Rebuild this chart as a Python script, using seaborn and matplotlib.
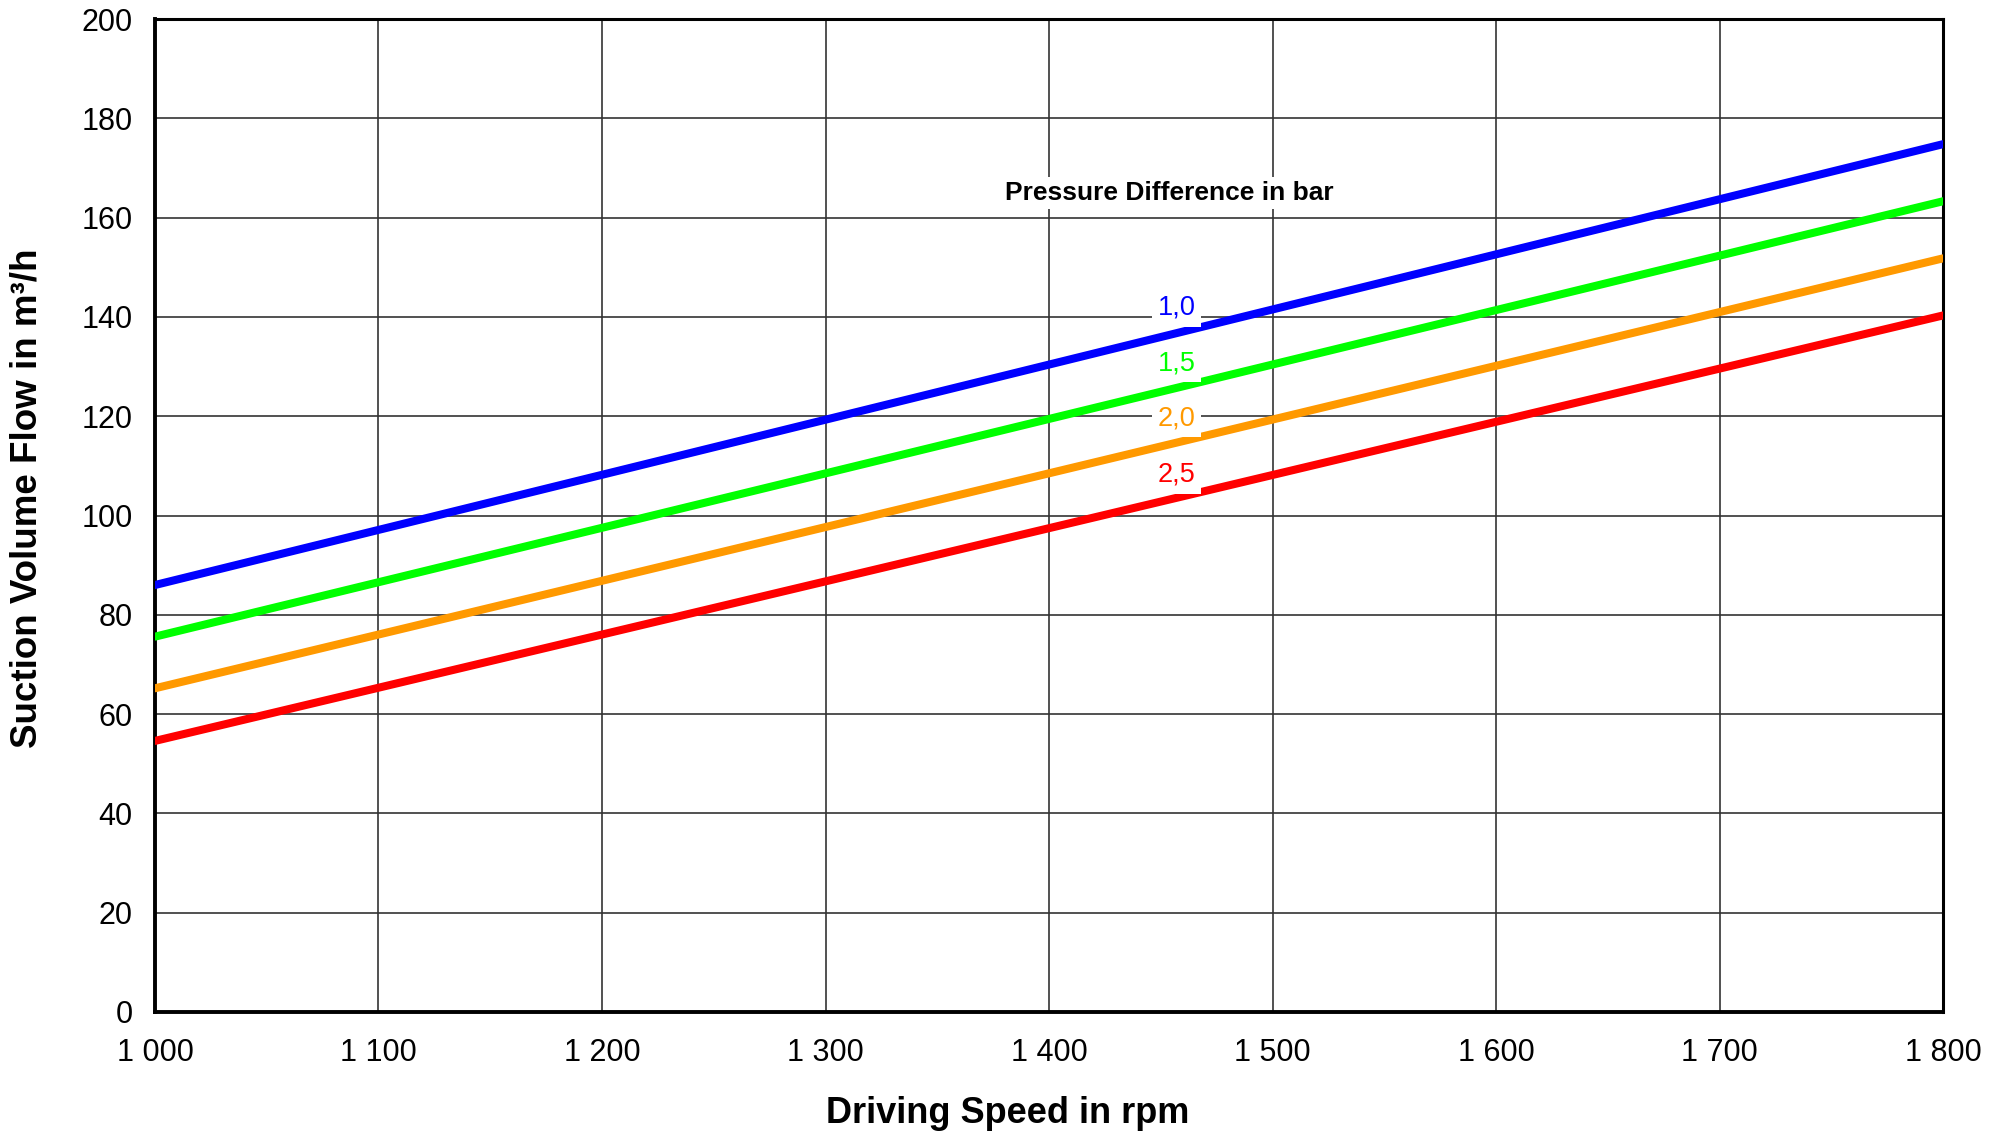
import pandas as pd
import seaborn as sns
import matplotlib
import matplotlib.pyplot as plt
from matplotlib.ticker import MultipleLocator, FuncFormatter

matplotlib.use('Agg')

# Data (straight lines, endpoints)
speed_rpm = [1000, 1800]
flow_1_0 = [86.0, 174.8]
flow_1_5 = [75.6, 163.3]
flow_2_0 = [65.2, 151.8]
flow_2_5 = [54.6, 140.3]
pressure_labels = ['1,0', '1,5', '2,0', '2,5']
label_y = [141.8, 130.7, 119.6, 108.2]
line_colors = ['#0000FF', '#00FF00', '#FF9900', '#FF0000']

df = pd.concat([
    pd.DataFrame({'rpm': speed_rpm, 'flow': vals, 'dp': lab})
    for vals, lab in zip([flow_1_0, flow_1_5, flow_2_0, flow_2_5], pressure_labels)
])

sns.set_theme(style='white')
plt.rcParams['font.family'] = ['Liberation Sans', 'DejaVu Sans']
plt.rcParams['text.color'] = 'black'
plt.rcParams['axes.labelcolor'] = 'black'
plt.rcParams['xtick.color'] = 'black'
plt.rcParams['ytick.color'] = 'black'

fig = plt.figure(figsize=(20.05, 11.33), dpi=100)
ax = fig.add_axes([0.0773, 0.1068, 0.8918, 0.8764])

sns.lineplot(data=df, x='rpm', y='flow', hue='dp', palette=line_colors,
             linewidth=5.8, legend=False, ax=ax, zorder=3)

ax.set_xlim(1000, 1800)
ax.set_ylim(0, 200)
ax.xaxis.set_major_locator(MultipleLocator(100))
ax.xaxis.set_minor_locator(MultipleLocator(20))
ax.yaxis.set_major_locator(MultipleLocator(20))
ax.yaxis.set_minor_locator(MultipleLocator(4))
ax.xaxis.set_major_formatter(FuncFormatter(lambda v, p: f"{int(v):,}".replace(',', ' ')))

ax.grid(True, which='major', color='#333333', linewidth=1.2)
ax.set_axisbelow(True)

for side in ['left', 'bottom', 'top', 'right']:
    ax.spines[side].set_visible(True)
    ax.spines[side].set_color('black')
    ax.spines[side].set_linewidth(2.8)
ax.spines['top'].set_linewidth(2.2)
ax.spines['right'].set_linewidth(2.2)

ax.tick_params(axis='both', which='major', direction='out', length=8, width=2.2,
               labelsize=22, colors='black', labelcolor='black', pad=8)
ax.tick_params(axis='both', which='minor', direction='out', length=6, width=2.2,
               colors='black')
ax.tick_params(axis='x', which='major', pad=11)

ax.set_xlabel('Driving Speed in rpm', fontsize=26, fontweight='bold', color='black')
ax.set_ylabel('Suction Volume Flow in m³/h', fontsize=26.5, fontweight='bold', color='black')
ax.xaxis.set_label_coords(0.477, -0.102)
ax.xaxis.label.set_va('center')
ax.yaxis.set_label_coords(-0.0715, 0.517)
ax.yaxis.label.set_va('center')

# title for the curve labels
ax.text(1454, 165, 'Pressure Difference in bar', fontsize=19, fontweight='bold',
        color='black', ha='center', va='center', zorder=5,
        bbox=dict(facecolor='white', edgecolor='none', pad=3))

for lab, yv, col in zip(pressure_labels, label_y, line_colors):
    ax.text(1457, yv, lab, fontsize=19.5, color=col, ha='center', va='center', zorder=5,
            bbox=dict(boxstyle='square,pad=0.22', facecolor='white', edgecolor='none'))

fig.savefig('out.png', dpi=100, facecolor='white')
plt.close(fig)
